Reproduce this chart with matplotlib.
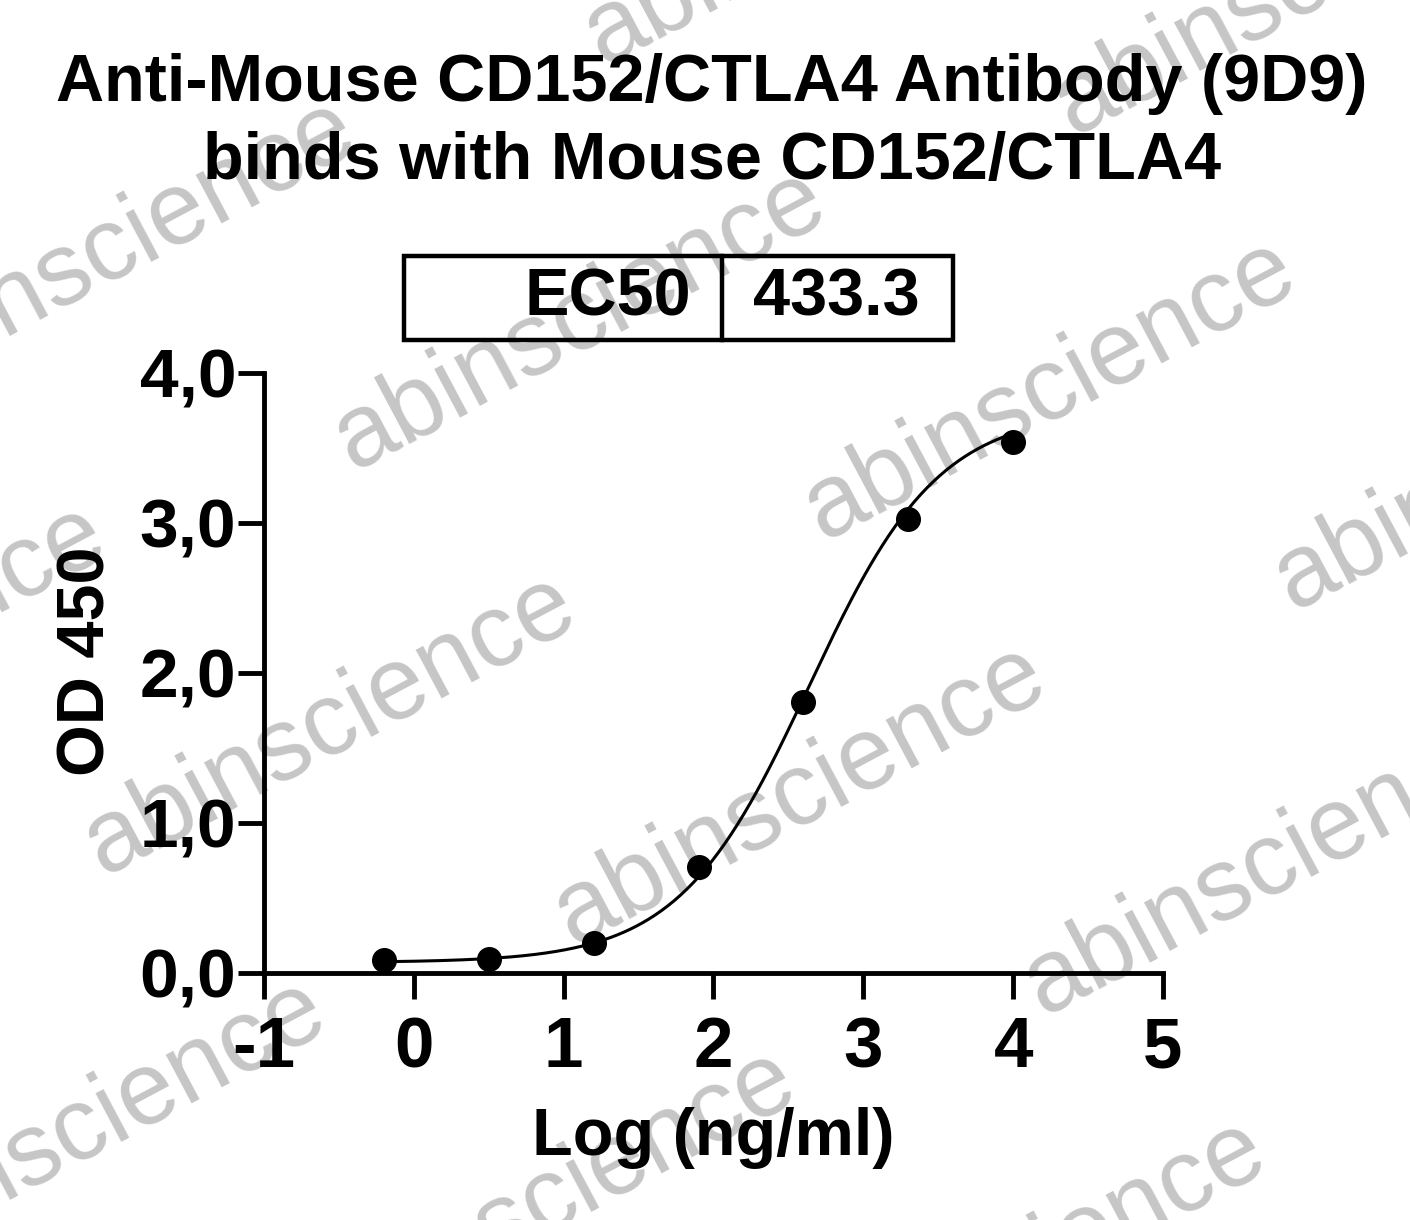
import numpy as np
import matplotlib
matplotlib.use("Agg")
import matplotlib.pyplot as plt
from matplotlib.patches import Rectangle

# measured points
log_conc = [-0.2, 0.5, 1.2, 1.9, 2.6, 3.3, 4.0]
od450 = [0.09, 0.095, 0.20, 0.71, 1.81, 3.03, 3.54]

# 4PL fit parameters (as shown by the curve)
fit_bottom = 0.07
fit_top = 3.75
fit_log_ec50 = np.log10(433.3)
fit_hill = 1.0
ec50_label = "433.3"

x_ticks = [-1, 0, 1, 2, 3, 4, 5]
y_ticks = [0, 1, 2, 3, 4]
y_tick_labels = ["0,0", "1,0", "2,0", "3,0", "4,0"]

plt.rcParams['font.family'] = ['Liberation Sans', 'DejaVu Sans']

fig = plt.figure(figsize=(14.1, 12.2), dpi=100)

# watermark grid (centres in pixels)
wm_centers = [(830, -85), (1300, -15), (110, 250), (580, 320), (1050, 390),
              (1520, 460), (-140, 655), (330, 725), (800, 795), (1270, 865),
              (80, 1130), (550, 1200), (1020, 1270)]
for cx, cy in wm_centers:
    fig.text(cx / 1410, 1 - cy / 1220, "abinscience", fontsize=74, color="#c6c6c6",
             rotation=28, ha="center", va="center", rotation_mode="anchor", zorder=-5)

ax = fig.add_axes([264 / 1410, 1 - 973 / 1220, (1163 - 264) / 1410, 600 / 1220])
ax.patch.set_visible(False)

xs = np.linspace(log_conc[0], log_conc[-1], 300)
ys = fit_bottom + (fit_top - fit_bottom) / (1 + 10 ** ((fit_log_ec50 - xs) * fit_hill))
ax.plot(xs, ys, color="black", lw=2.2, zorder=3)
ax.plot(log_conc, od450, "o", color="black", ms=17, zorder=4, clip_on=False)

ax.set_xlim(-1, 5)
ax.set_ylim(0, 4)
ax.set_xticks(x_ticks)
ax.set_xticklabels([str(t) for t in x_ticks], fontweight="bold", fontsize=51)
ax.set_yticks(y_ticks)
ax.set_yticklabels(y_tick_labels, fontweight="bold", fontsize=50)
for s in ["top", "right"]:
    ax.spines[s].set_visible(False)
for s in ["left", "bottom"]:
    ax.spines[s].set_linewidth(3.5)
ax.tick_params(axis="both", direction="out", length=19, width=3.5)
ax.tick_params(axis="x", pad=12)
ax.tick_params(axis="y", pad=1)

ax.set_xlabel("Log (ng/ml)", fontsize=48, fontweight="bold", labelpad=18)
ax.set_ylabel("OD 450", fontsize=48, fontweight="bold")
ax.yaxis.set_label_coords(-0.162, 0.52)

fig.text(712 / 1410, 1 - 84 / 1220, "Anti-Mouse CD152/CTLA4 Antibody (9D9)",
         fontsize=48, fontweight="bold", ha="center", va="center")
fig.text(712 / 1410, 1 - 162 / 1220, "binds with Mouse CD152/CTLA4",
         fontsize=48, fontweight="bold", ha="center", va="center")

# EC50 table
box_l, box_r, box_t, box_b, div = 404, 953, 256, 340, 722
fig.patches.append(Rectangle((box_l / 1410, 1 - box_b / 1220), (box_r - box_l) / 1410,
                             (box_b - box_t) / 1220, transform=fig.transFigure,
                             fill=False, lw=3.2, edgecolor="black"))
fig.add_artist(plt.Line2D([div / 1410, div / 1410], [1 - box_b / 1220, 1 - box_t / 1220],
                          transform=fig.transFigure, color="black", lw=3.2))
fig.text(691 / 1410, 1 - 298 / 1220, "EC50", fontsize=48, fontweight="bold",
         ha="right", va="center")
fig.text(836 / 1410, 1 - 298 / 1220, ec50_label, fontsize=48, fontweight="bold",
         ha="center", va="center")

fig.savefig("out.png", dpi=100)
